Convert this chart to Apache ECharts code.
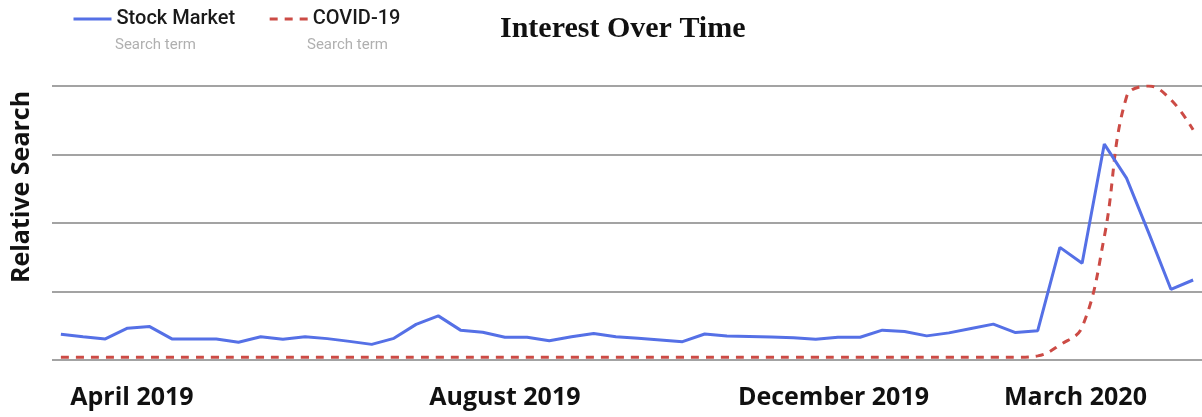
<!DOCTYPE html>
<html>
<head>
<meta charset="utf-8">
<script src="https://cdn.jsdelivr.net/npm/echarts@6/dist/echarts.min.js"></script>
<style>
  html, body { margin: 0; padding: 0; background: #ffffff; }
  #chart { width: 1202px; height: 417px; }
</style>
</head>
<body>
<div id="chart"></div>
<script>
// Weekly relative search interest (0-100), one value per week, April 2019 - April 2020
const weeks = Array.from({ length: 52 }, (_, i) => i);

const stockMarket = [
  9.4, 8.5, 7.7, 11.6, 12.2, 7.7, 7.7, 7.7, 6.5, 8.5,
  7.6, 8.5, 7.8, 6.8, 5.7, 7.9, 13.0, 16.1, 10.9, 10.1,
  8.3, 8.3, 7.0, 8.5, 9.7, 8.5, 7.9, 7.3, 6.7, 9.5,
  8.8, 8.6, 8.4, 8.1, 7.6, 8.3, 8.3, 10.9, 10.4, 8.8,
  9.9, 11.5, 13.1, 10.0, 10.7, 41.1, 35.3, 78.8, 66.4, 46.4,
  25.8, 29.2
];

const covid19 = [
  1, 1, 1, 1, 1, 1, 1, 1, 1, 1,
  1, 1, 1, 1, 1, 1, 1, 1, 1, 1,
  1, 1, 1, 1, 1, 1, 1, 1, 1, 1,
  1, 1, 1, 1, 1, 1, 1, 1, 1, 1,
  1, 1, 1, 1, 1.5, 5.5, 12, 45, 96, 100,
  95, 84
];

// Month labels and the week positions they sit under
const monthLabels = ['April 2019', 'August 2019', 'December 2019', 'March 2020'];
const monthPositions = [3.2, 20.0, 34.8, 45.7];

const seriesNames = ['Stock Market', 'COVID-19'];
const subLabel = 'Search term';

const chart = echarts.init(document.getElementById('chart'));

chart.setOption({
  backgroundColor: '#ffffff',
  animation: false,
  title: {
    text: 'Interest Over Time',
    left: 500,
    top: 14,
    padding: 0,
    textStyle: {
      fontFamily: 'Liberation Serif',
      fontWeight: 'bold',
      fontSize: 30,
      color: '#111111'
    }
  },
  legend: {
    left: 72,
    top: 9,
    padding: 0,
    itemWidth: 38,
    itemHeight: 14,
    itemGap: 33,
    data: seriesNames,
    itemStyle: { opacity: 0 },
    lineStyle: { width: 3 },
    textStyle: {
      fontFamily: 'Roboto',
      fontWeight: 500,
      fontSize: 20,
      color: '#1a1a1a'
    }
  },
  graphic: [
    {
      type: 'text',
      left: 115,
      top: 38,
      style: { text: subLabel, font: '15px Roboto', fill: '#b0b0b0' }
    },
    {
      type: 'text',
      left: 307,
      top: 38,
      style: { text: subLabel, font: '15px Roboto', fill: '#b0b0b0' }
    },
    {
      type: 'text',
      x: 22,
      y: 187,
      rotation: Math.PI / 2,
      style: {
        text: 'Relative Search',
        font: 'bold 25px "Open Sans"',
        fill: '#111111',
        align: 'center',
        verticalAlign: 'middle'
      }
    }
  ],
  grid: {
    left: 52,
    right: 0,
    top: 86,
    bottom: 57
  },
  xAxis: {
    type: 'value',
    min: -0.4,
    max: 51.4,
    axisLine: { show: false },
    axisTick: { show: false },
    splitLine: { show: false },
    axisLabel: {
      customValues: monthPositions,
      margin: 25,
      fontFamily: 'Open Sans',
      fontWeight: 'bold',
      fontSize: 25,
      color: '#111111',
      formatter: function (v) {
        const idx = monthPositions.findIndex(p => Math.abs(p - v) < 1e-6);
        return idx >= 0 ? monthLabels[idx] : '';
      }
    }
  },
  yAxis: {
    type: 'value',
    min: 0,
    max: 100,
    interval: 25,
    axisLine: { show: false },
    axisTick: { show: false },
    axisLabel: { show: false },
    splitLine: { lineStyle: { color: '#a3a3a3', width: 2 } }
  },
  series: [
    {
      name: seriesNames[0],
      type: 'line',
      data: weeks.map(i => [i, stockMarket[i]]),
      symbol: 'none',
      color: '#5570e6',
      lineStyle: { width: 3, color: '#5570e6' },
      z: 3
    },
    {
      name: seriesNames[1],
      type: 'line',
      data: weeks.map(i => [i, covid19[i]]),
      symbol: 'none',
      smooth: 0.4,
      color: '#cc4b45',
      lineStyle: { width: 3, color: '#cc4b45', type: [8, 7] },
      z: 2
    }
  ]
});
</script>
</body>
</html>
